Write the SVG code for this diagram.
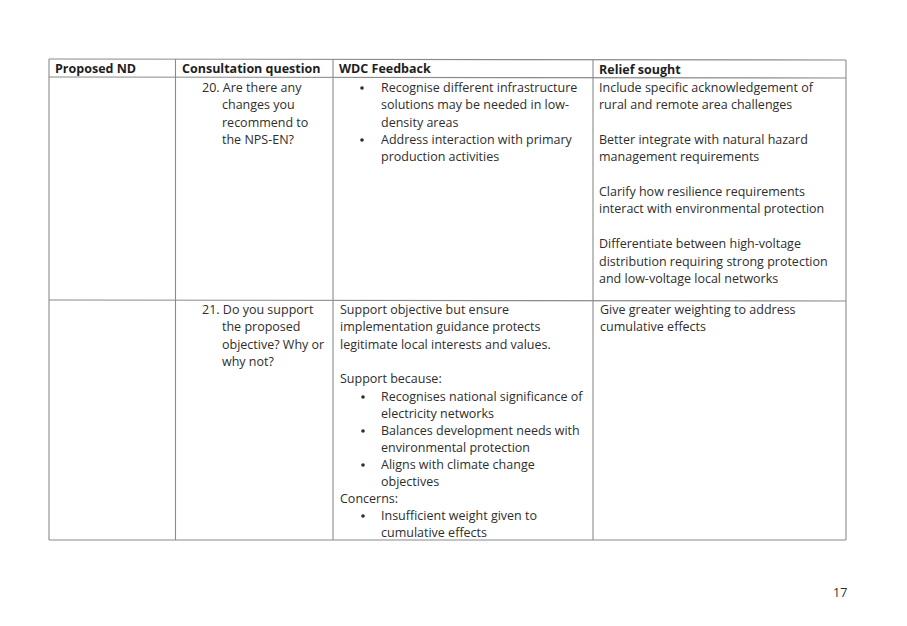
<svg xmlns="http://www.w3.org/2000/svg" width="907" height="626" viewBox="0 0 907 626">
<style>
text{font-family:"Open Sans","Noto Sans","Liberation Sans",sans-serif;font-size:12.5px;fill:#2e2e2e}
.h{font-weight:bold;fill:#1e1e1e}
.g line{stroke:#8a8a8a;stroke-width:1.1}
.b{fill:#2e2e2e}
</style>
<rect width="907" height="626" fill="#ffffff"/>
<g id="grid" class="g">
<line x1="49" y1="59" x2="846" y2="60"/>
<line x1="49" y1="77" x2="846" y2="78"/>
<line x1="49" y1="300" x2="846" y2="301"/>
<line x1="49" y1="540" x2="846" y2="540"/>
<line x1="49" y1="59" x2="49" y2="540"/>
<line x1="175.5" y1="59" x2="175.5" y2="540"/>
<line x1="333" y1="59" x2="333" y2="540"/>
<line x1="593" y1="60" x2="593" y2="540"/>
<line x1="846" y1="60" x2="846" y2="540"/>
</g>
<g id="header">
<text class="h" x="55" y="73">Proposed ND</text>
<text class="h" x="182" y="73">Consultation question</text>
<text class="h" x="339" y="73">WDC Feedback</text>
<text class="h" x="599" y="74">Relief sought</text>
</g>
<g id="row20-question">
<text x="202" y="92">20. Are there any</text>
<text x="222" y="109">changes you</text>
<text x="222" y="127">recommend to</text>
<text x="222" y="144">the NPS-EN?</text>
</g>
<g id="row20-feedback">
<circle class="b" cx="362" cy="88" r="1.8"/>
<text x="381" y="92">Recognise different infrastructure</text>
<text x="381" y="109">solutions may be needed in low-</text>
<text x="381" y="127">density areas</text>
<circle class="b" cx="362" cy="140" r="1.8"/>
<text x="381" y="144">Address interaction with primary</text>
<text x="381" y="161">production activities</text>
</g>
<g id="row20-relief">
<text x="599" y="92">Include specific acknowledgement of</text>
<text x="599" y="109">rural and remote area challenges</text>
<text x="599" y="144">Better integrate with natural hazard</text>
<text x="599" y="161">management requirements</text>
<text x="599" y="196">Clarify how resilience requirements</text>
<text x="599" y="213">interact with environmental protection</text>
<text x="599" y="248">Differentiate between high-voltage</text>
<text x="599" y="266">distribution requiring strong protection</text>
<text x="599" y="283">and low-voltage local networks</text>
</g>
<g id="row21-question">
<text x="202" y="314">21. Do you support</text>
<text x="222" y="331">the proposed</text>
<text x="222" y="349">objective? Why or</text>
<text x="222" y="366">why not?</text>
</g>
<g id="row21-feedback">
<text x="340" y="314">Support objective but ensure</text>
<text x="340" y="331">implementation guidance protects</text>
<text x="340" y="349">legitimate local interests and values.</text>
<text x="340" y="383">Support because:</text>
<circle class="b" cx="363" cy="397" r="1.8"/>
<text x="381" y="401">Recognises national significance of</text>
<text x="381" y="418">electricity networks</text>
<circle class="b" cx="363" cy="431" r="1.8"/>
<text x="381" y="435">Balances development needs with</text>
<text x="381" y="452">environmental protection</text>
<circle class="b" cx="363" cy="465" r="1.8"/>
<text x="381" y="469">Aligns with climate change</text>
<text x="381" y="486">objectives</text>
<text x="340" y="503">Concerns:</text>
<circle class="b" cx="363" cy="516" r="1.8"/>
<text x="381" y="520">Insufficient weight given to</text>
<text x="381" y="537">cumulative effects</text>
</g>
<g id="row21-relief">
<text x="600" y="314">Give greater weighting to address</text>
<text x="600" y="331">cumulative effects</text>
</g>
<text x="833" y="597">17</text>
</svg>
